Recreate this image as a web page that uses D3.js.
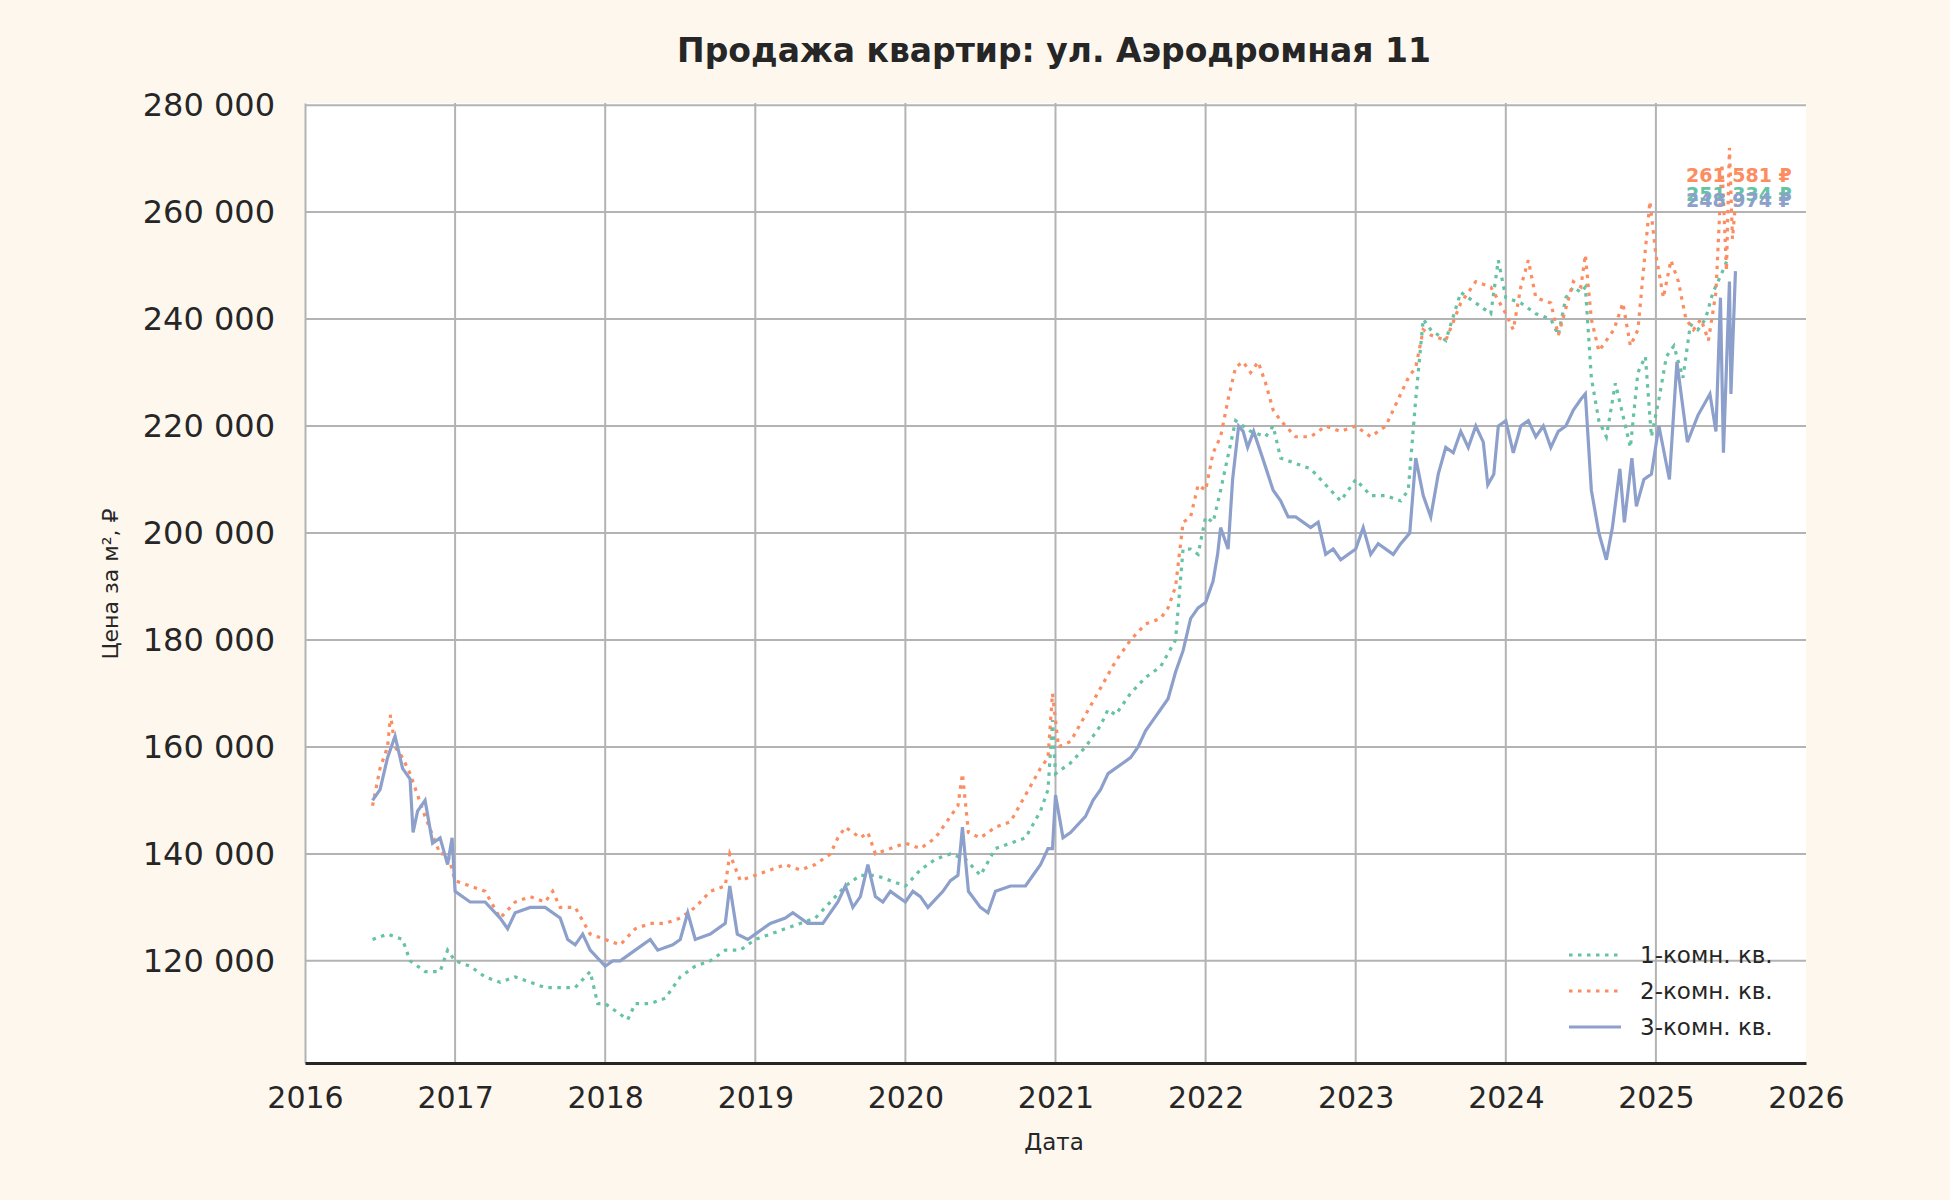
<!DOCTYPE html>
<html><head><meta charset="utf-8">
<script src="https://cdn.jsdelivr.net/npm/d3@7"></script>
<style>body{margin:0;background:#fef7ee;}svg{display:block;font-family:"DejaVu Sans",sans-serif;}</style>
</head><body>
<svg id="c" width="1950" height="1200"></svg>
<script>
const title = "Продажа квартир: ул. Аэродромная 11";
const seriesNames = ["1-комн. кв.", "2-комн. кв.", "3-комн. кв."];
const colors = ["#66c2a5", "#fc8d62", "#8da0cb"];
const yTicks = [120000,140000,160000,180000,200000,220000,240000,260000,280000];
const xTicks = [2016,2017,2018,2019,2020,2021,2022,2023,2024,2025,2026];

const t1 = [2016.45,2016.55,2016.65,2016.7,2016.8,2016.9,2016.95,2017.0,2017.1,2017.2,2017.3,2017.4,2017.5,2017.6,2017.7,2017.8,2017.9,2017.95,2018.0,2018.1,2018.15,2018.2,2018.3,2018.4,2018.5,2018.6,2018.7,2018.8,2018.9,2019.0,2019.1,2019.2,2019.3,2019.4,2019.5,2019.6,2019.7,2019.8,2019.9,2020.0,2020.1,2020.2,2020.3,2020.4,2020.5,2020.6,2020.7,2020.8,2020.9,2020.95,2020.98,2021.0,2021.1,2021.2,2021.3,2021.35,2021.4,2021.5,2021.6,2021.7,2021.8,2021.85,2021.9,2021.95,2022.0,2022.05,2022.1,2022.2,2022.3,2022.4,2022.45,2022.5,2022.6,2022.7,2022.8,2022.9,2023.0,2023.1,2023.2,2023.3,2023.35,2023.4,2023.45,2023.5,2023.6,2023.7,2023.8,2023.9,2023.95,2024.0,2024.1,2024.2,2024.3,2024.35,2024.4,2024.45,2024.5,2024.53,2024.57,2024.62,2024.67,2024.73,2024.78,2024.83,2024.88,2024.93,2024.97,2025.02,2025.07,2025.12,2025.18,2025.23,2025.28,2025.33,2025.38,2025.43,2025.48,2025.53];
const v1 = [124000,125000,124000,120000,118000,118000,122000,120000,119000,117000,116000,117000,116000,115000,115000,115000,118000,112000,112000,110000,109000,112000,112000,113000,117000,119000,120000,122000,122000,124000,125000,126000,127000,128000,131000,134000,136000,136000,135000,134000,137000,139000,140000,139000,136000,141000,142000,143000,148000,152000,165000,155000,157000,160000,164000,167000,166000,170000,173000,175000,180000,197000,197000,196000,203000,202000,208000,221000,219000,218000,220000,214000,213000,212000,209000,206000,210000,207000,207000,206000,208000,225000,240000,238000,236000,245000,243000,241000,251000,244000,243000,241000,240000,237000,244000,246000,245000,246000,229000,221000,218000,228000,222000,216000,230000,233000,218000,225000,233000,235000,229000,239000,238000,240000,245000,248000,251334];

const t2 = [2016.45,2016.5,2016.55,2016.57,2016.6,2016.65,2016.7,2016.8,2016.9,2016.95,2017.0,2017.1,2017.2,2017.3,2017.4,2017.5,2017.6,2017.65,2017.7,2017.8,2017.9,2018.0,2018.1,2018.2,2018.3,2018.4,2018.5,2018.6,2018.7,2018.8,2018.83,2018.9,2019.0,2019.1,2019.2,2019.3,2019.4,2019.5,2019.55,2019.6,2019.7,2019.75,2019.8,2019.9,2020.0,2020.1,2020.2,2020.3,2020.35,2020.38,2020.42,2020.5,2020.6,2020.7,2020.8,2020.9,2020.95,2020.98,2021.02,2021.1,2021.2,2021.3,2021.4,2021.5,2021.6,2021.7,2021.75,2021.8,2021.85,2021.9,2021.95,2022.0,2022.05,2022.1,2022.15,2022.2,2022.25,2022.3,2022.35,2022.4,2022.45,2022.5,2022.6,2022.7,2022.8,2022.9,2023.0,2023.1,2023.2,2023.3,2023.35,2023.4,2023.45,2023.5,2023.6,2023.7,2023.8,2023.9,2024.0,2024.05,2024.1,2024.15,2024.2,2024.3,2024.35,2024.4,2024.45,2024.5,2024.53,2024.57,2024.62,2024.67,2024.72,2024.78,2024.83,2024.88,2024.92,2024.96,2025.0,2025.05,2025.1,2025.15,2025.2,2025.25,2025.3,2025.35,2025.4,2025.44,2025.47,2025.49,2025.51,2025.53];
const v2 = [149000,156000,160000,166000,160000,158000,155000,147000,140000,140000,135000,134000,133000,128000,131000,132000,131000,133000,130000,130000,125000,124000,123000,126000,127000,127000,128000,130000,133000,134000,140000,135000,136000,137000,138000,137000,138000,140000,143000,145000,143000,144000,140000,141000,142000,141000,143000,147000,149000,155000,144000,143000,145000,146000,151000,156000,158000,170000,160000,161000,166000,171000,176000,180000,183000,184000,186000,190000,202000,203000,209000,208000,215000,218000,225000,231000,232000,230000,232000,228000,223000,221000,218000,218000,220000,219000,220000,218000,220000,226000,229000,231000,238000,237000,236000,243000,247000,246000,241000,238000,246000,251000,244000,243000,237000,242000,247000,246000,252000,240000,234000,236000,238000,243000,235000,238000,250000,262000,252000,244000,251000,247000,240000,238000,240000,236000,245000,269000,249000,272000,255000,261581];

const t3 = [2016.45,2016.5,2016.55,2016.6,2016.65,2016.7,2016.72,2016.75,2016.8,2016.85,2016.9,2016.95,2016.98,2017.0,2017.1,2017.2,2017.3,2017.35,2017.4,2017.5,2017.6,2017.7,2017.75,2017.8,2017.85,2017.9,2018.0,2018.05,2018.1,2018.2,2018.3,2018.35,2018.45,2018.5,2018.55,2018.6,2018.7,2018.8,2018.83,2018.88,2018.95,2019.0,2019.1,2019.2,2019.25,2019.35,2019.45,2019.55,2019.6,2019.65,2019.7,2019.75,2019.8,2019.85,2019.9,2020.0,2020.05,2020.1,2020.15,2020.25,2020.3,2020.35,2020.38,2020.42,2020.5,2020.55,2020.6,2020.7,2020.8,2020.85,2020.9,2020.95,2020.98,2021.0,2021.05,2021.1,2021.2,2021.25,2021.3,2021.35,2021.45,2021.5,2021.55,2021.6,2021.65,2021.7,2021.75,2021.8,2021.85,2021.9,2021.95,2022.0,2022.05,2022.08,2022.1,2022.15,2022.18,2022.22,2022.25,2022.28,2022.32,2022.38,2022.45,2022.5,2022.55,2022.6,2022.7,2022.75,2022.8,2022.85,2022.9,2023.0,2023.05,2023.1,2023.15,2023.25,2023.3,2023.36,2023.4,2023.45,2023.5,2023.55,2023.6,2023.65,2023.7,2023.75,2023.8,2023.85,2023.88,2023.92,2023.95,2024.0,2024.05,2024.1,2024.15,2024.2,2024.25,2024.3,2024.35,2024.4,2024.45,2024.5,2024.53,2024.57,2024.62,2024.67,2024.71,2024.76,2024.79,2024.84,2024.87,2024.92,2024.97,2025.02,2025.09,2025.14,2025.21,2025.28,2025.36,2025.4,2025.43,2025.45,2025.49,2025.5,2025.53];
const v3 = [150000,152000,158000,162000,156000,154000,144000,148000,150000,142000,143000,138000,143000,133000,131000,131000,128000,126000,129000,130000,130000,128000,124000,123000,125000,122000,119000,120000,120000,122000,124000,122000,123000,124000,129000,124000,125000,127000,134000,125000,124000,125000,127000,128000,129000,127000,127000,131000,134000,130000,132000,138000,132000,131000,133000,131000,133000,132000,130000,133000,135000,136000,145000,133000,130000,129000,133000,134000,134000,136000,138000,141000,141000,151000,143000,144000,147000,150000,152000,155000,157000,158000,160000,163000,165000,167000,169000,174000,178000,184000,186000,187000,191000,196000,201000,197000,210000,220000,219000,216000,219000,214000,208000,206000,203000,203000,201000,202000,196000,197000,195000,197000,201000,196000,198000,196000,198000,200000,214000,207000,203000,211000,216000,215000,219000,216000,220000,217000,209000,211000,220000,221000,215000,220000,221000,218000,220000,216000,219000,220000,223000,225000,226000,208000,200000,195000,201000,212000,202000,214000,205000,210000,211000,220000,210000,232000,217000,222000,226000,219000,244000,215000,247000,226000,248974];

const endLabels = ["251 334 ₽","261 581 ₽","248 974 ₽"];

const svg = d3.select("#c");
const W=1950,H=1200, m={l:305,r:1806,t:103,b:1063};
svg.append("rect").attr("width",W).attr("height",H).attr("fill","#fef7ee");
svg.append("rect").attr("x",m.l).attr("y",m.t).attr("width",m.r-m.l).attr("height",m.b-m.t).attr("fill","#fff");

const x = d3.scaleLinear().domain([2016,2026]).range([m.l,m.r]);
const y = d3.scaleLinear().domain([100900,280400]).range([m.b,m.t]);
const fmt = v => d3.format(",")(v).replace(/,/g," ");

const g = svg.append("g");
yTicks.forEach(v=>g.append("line").attr("x1",m.l).attr("x2",m.r).attr("y1",y(v)).attr("y2",y(v)).attr("stroke","#b3b3b3").attr("stroke-width",2));
xTicks.slice(1,-1).forEach(v=>g.append("line").attr("x1",x(v)).attr("x2",x(v)).attr("y1",m.t).attr("y2",m.b).attr("stroke","#b3b3b3").attr("stroke-width",2));

const yAx = svg.append("g").attr("transform",`translate(${m.l},0)`).call(d3.axisLeft(y).tickValues(yTicks).tickFormat(fmt).tickSize(0).tickPadding(30));
yAx.select(".domain").attr("stroke","#b3b3b3").attr("stroke-width",2);
yAx.selectAll("text").attr("font-size",32).attr("fill","#262626").attr("font-family","DejaVu Sans");

const xAx = svg.append("g").attr("transform",`translate(0,${m.b})`).call(d3.axisBottom(x).tickValues(xTicks).tickFormat(d3.format("d")).tickSize(0).tickPadding(24));
xAx.select(".domain").attr("stroke","#262626").attr("stroke-width",3);
xAx.selectAll("text").attr("font-size",30).attr("fill","#262626").attr("font-family","DejaVu Sans");

const data = [[t1,v1],[t2,v2],[t3,v3]];
const line = d3.line().x(d=>x(d[0])).y(d=>y(d[1]));
data.forEach(([t,v],i)=>{
  const pts = t.map((d,j)=>[d,v[j]]);
  const p = svg.append("path").datum(pts).attr("d",line).attr("fill","none")
    .attr("stroke",colors[i]).attr("stroke-width",i===2?3.2:3.2);
  if(i<2) p.attr("stroke-dasharray","3.5,5.5");
});

const labY=[201,182,207];
[1,0,2].forEach(i=>svg.append("text").attr("x",1686).attr("y",labY[i]).attr("font-size",19).attr("font-weight","bold").attr("fill",colors[i]).text(endLabels[i]));

svg.append("text").attr("x",1054).attr("y",62).attr("text-anchor","middle").attr("font-size",33).attr("font-weight","bold").attr("fill","#262626").text(title);
svg.append("text").attr("x",1054).attr("y",1150).attr("text-anchor","middle").attr("font-size",23).attr("fill","#262626").text("Дата");
svg.append("text").attr("transform","translate(118,584) rotate(-90)").attr("text-anchor","middle").attr("font-size",22).attr("fill","#262626").text("Цена за м², ₽");

const legY=[955,991,1027];
seriesNames.forEach((n,i)=>{
  const l=svg.append("line").attr("x1",1569).attr("x2",1621).attr("y1",legY[i]).attr("y2",legY[i]).attr("stroke",colors[i]).attr("stroke-width",3.2);
  if(i<2) l.attr("stroke-dasharray","3.5,5.5");
  svg.append("text").attr("x",1640).attr("y",legY[i]+8).attr("font-size",23).attr("fill","#262626").text(n);
});
</script>
</body></html>
